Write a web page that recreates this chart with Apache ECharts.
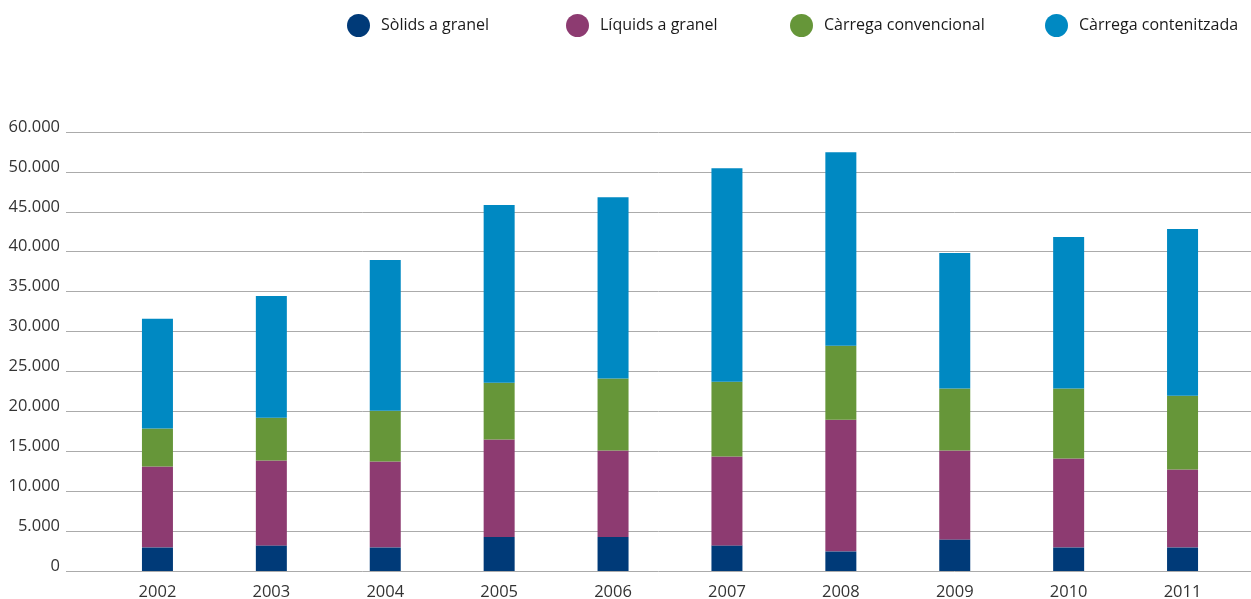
<!doctype html>
<html lang="ca">
<head>
    <meta charset="UTF-8">
    <title>Tràfic de mercaderies per tipus de càrrega</title>
    <style>
        html, body { margin: 0; padding: 0; background: #fff; }
        #main { width: 1251px; height: 599px; }
    </style>
</head>
<body>
    <div id="main"></div>

    <script src="https://cdn.jsdelivr.net/npm/echarts@6/dist/echarts.min.js"></script>
    <script type="text/javascript">
    // anys i valors (milers de tones) llegits del gràfic
    var years = ['2002', '2003', '2004', '2005', '2006', '2007', '2008', '2009', '2010', '2011'];
    var solids = [2960, 3210, 2960, 4250, 4250, 3210, 2460, 3960, 2960, 2960];
    var liquids = [10130, 10630, 10750, 12210, 10840, 11130, 16500, 11130, 11130, 9750];
    var convencional = [4750, 5370, 6380, 7130, 9040, 9370, 9250, 7790, 8790, 9250];
    var contenitzada = [13750, 15250, 18870, 22250, 22710, 26750, 24250, 16960, 18960, 20880];
    // l'original etiqueta la línia superior com a 60.000
    var tickLabels = ['0', '5.000', '10.000', '15.000', '20.000', '25.000', '30.000', '35.000', '40.000', '45.000', '50.000', '60.000'];

    var names = ['Sòlids a granel', 'Líquids a granel', 'Càrrega convencional', 'Càrrega contenitzada'];
    var colors = ['#003a78', '#8d3b71', '#669639', '#0089c2'];
    var legendLeft = [347, 566, 790, 1045];

    var font = '"Open Sans", "Noto Sans", sans-serif';
    var myChart = echarts.init(document.getElementById('main'), null, { renderer: 'canvas' });

    var legends = names.map(function (n, i) {
        return {
            data: [n],
            left: legendLeft[i],
            top: 14,
            padding: 0,
            icon: 'circle',
            itemWidth: 23,
            itemHeight: 23,
            selectedMode: false,
            textStyle: {
                fontFamily: font,
                fontSize: 16,
                color: '#1a1a1a',
                padding: [0, 0, 0, 6]
            }
        };
    });

    var data = [solids, liquids, convencional, contenitzada];
    var series = names.map(function (n, i) {
        return {
            name: n,
            type: 'bar',
            stack: 'total',
            xAxisIndex: 1,
            yAxisIndex: 1,
            barWidth: 31,
            itemStyle: { color: colors[i] },
            data: data[i]
        };
    });

    var option = {
        animation: false,
        color: colors,
        legend: legends,
        grid: [
            { left: 66, right: 0, top: 132, bottom: 28, outerBoundsMode: 'none' },
            { left: 100.5, right: 11.5, top: 132, bottom: 28, outerBoundsMode: 'none' }
        ],
        xAxis: [
            { gridIndex: 0, type: 'value', show: false, min: 0, max: 1 },
            {
                gridIndex: 1,
                type: 'category',
                data: years,
                axisLine: { show: false },
                axisTick: { show: false },
                axisLabel: {
                    margin: 13,
                    fontFamily: font,
                    fontSize: 16.5,
                    color: '#333'
                }
            }
        ],
        yAxis: [
            {
                gridIndex: 0,
                type: 'value',
                min: 0,
                max: 55000,
                interval: 5000,
                axisLine: { show: false },
                axisTick: { show: false },
                axisLabel: {
                    margin: 6,
                    fontFamily: font,
                    fontSize: 16.5,
                    lineHeight: 10,
                    color: '#333',
                    verticalAlign: 'bottom',
                    formatter: function (v) {
                        return tickLabels[Math.round(v / 5000)];
                    }
                },
                splitLine: {
                    show: true,
                    lineStyle: { color: '#ababab', width: 1 }
                }
            },
            {
                gridIndex: 1,
                type: 'value',
                min: 0,
                max: 55000,
                show: false,
                splitLine: { show: false }
            }
        ],
        series: series
    };

    myChart.setOption(option);
    </script>
</body>
</html>
